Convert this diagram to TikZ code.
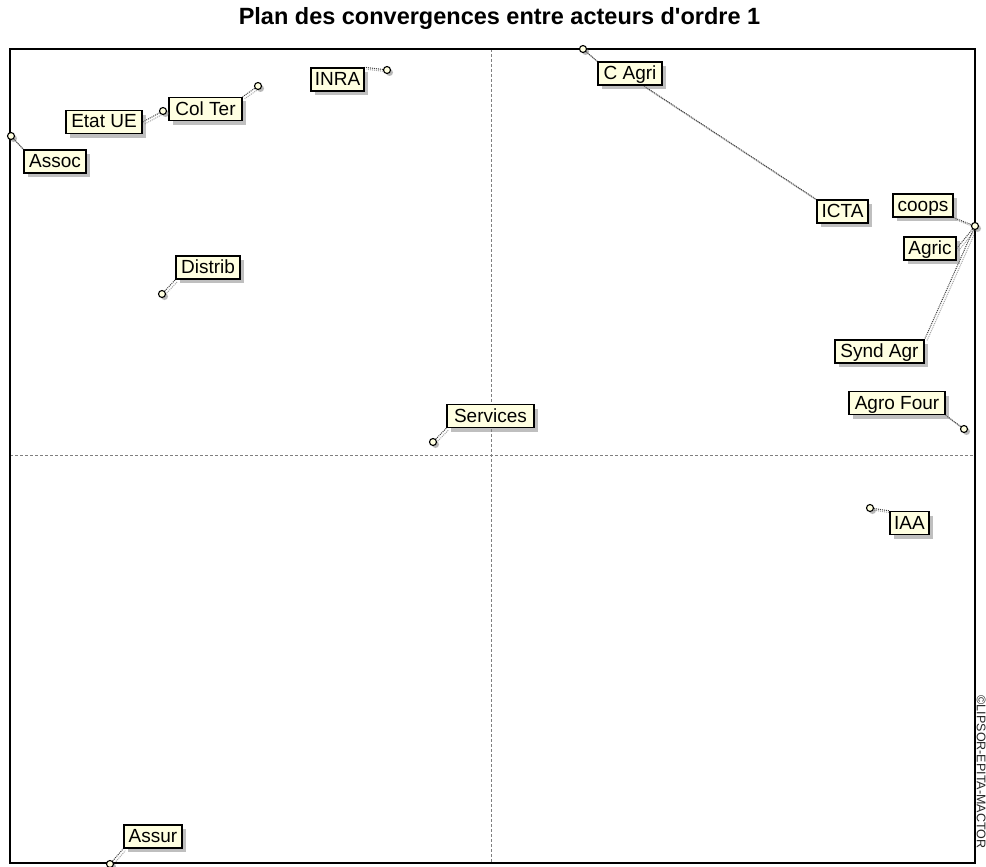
\documentclass[tikz,border=0pt]{standalone}
\usepackage{fontspec}
\setmainfont{Liberation Sans}
\usetikzlibrary{shadows}
\definecolor{cream}{HTML}{FFFFE1}
\pgfdeclarelayer{back}
\pgfsetlayers{back,main}
\begin{document}
\begin{tikzpicture}[x=1pt,y=-1pt,
  lbl/.style={draw=black,line width=1.4pt,fill=cream,inner xsep=0pt,inner ysep=0pt,
    minimum height=23pt,text height=14.5pt,text depth=2.5pt,
    font=\fontsize{19}{19}\selectfont,
    drop shadow={shadow xshift=4pt,shadow yshift=-4pt,fill=black!50,draw=none}},
  pt/.style={circle,draw=black,line width=1.1pt,fill=cream,inner sep=0pt,minimum size=7pt,
    drop shadow={shadow xshift=2.5pt,shadow yshift=-2.5pt,fill=black!55,draw=none}},
  lnk/.style={draw=black!75,line width=1pt,dash pattern=on 1pt off 1pt},
  lnksh/.style={draw=black!35,line width=1pt,dash pattern=on 1pt off 1pt},
  frame/.style={draw=black,line width=1.4pt},
  axis/.style={draw=black!50,line width=1pt,dash pattern=on 3pt off 2pt}]
\useasboundingbox (0,0) rectangle (986,867);
\clip (0,0) rectangle (986,867);
\begin{pgfonlayer}{back}
\fill[white] (0,0) rectangle (986,867);
\end{pgfonlayer}

\node[font=\bfseries\fontsize{23.5}{24}\selectfont] (title) at (499.5,18.5) {Plan des convergences entre acteurs d\textquotesingle ordre 1};

\begin{pgfonlayer}{back}
\draw[axis] (491,49) -- (491,863);
\draw[axis] (10,455) -- (975,455);
\end{pgfonlayer}
\draw[frame] (10,49) rectangle (975,863);

\node[rotate=-90,font=\fontsize{12.5}{13}\selectfont,text=black!85] (copy) at (981.2,772) {©LIPSOR-EPITA-MACTOR};

% labels
\node[lbl,minimum width=62pt] (Assoc) at (55,161.5) {Assoc};
\node[lbl,minimum width=76pt] (EtatUE) at (104,122) {Etat UE};
\node[lbl,minimum width=73pt] (ColTer) at (205.5,109) {Col Ter};
\node[lbl,minimum width=53pt] (INRA) at (337.5,79.5) {INRA};
\node[lbl,minimum width=64pt] (CAgri) at (630,73.5) {C Agri};
\node[lbl,minimum width=51pt] (ICTA) at (842.5,211.5) {ICTA};
\node[lbl,minimum width=60pt] (coops) at (923,205.5) {coops};
\node[lbl,minimum width=52pt] (Agric) at (930,248.5) {Agric};
\node[lbl,minimum width=89pt] (SyndAgr) at (879.5,351.5) {Synd Agr};
\node[lbl,minimum width=96pt] (AgroFour) at (897,403) {Agro Four};
\node[lbl,minimum width=39pt] (IAA) at (909.5,523) {IAA};
\node[lbl,minimum width=64pt] (Distrib) at (208,267.5) {Distrib};
\node[lbl,minimum width=87pt] (Services) at (490.5,416) {Services};
\node[lbl,minimum width=58pt] (Assur) at (153,836.5) {Assur};

% points
\node[pt] (pAssoc) at (11,136) {};
\node[pt] (pEtatUE) at (163,111) {};
\node[pt] (pColTer) at (258,86) {};
\node[pt] (pINRA) at (387,70) {};
\node[pt] (pCAgri) at (583,49) {};
\coordinate (pICTA) at (644,86);
\node[pt] (pAgri) at (975,226) {};
\node[pt] (pAgroFour) at (964,429) {};
\node[pt] (pIAA) at (870,508) {};
\node[pt] (pDistrib) at (162,294) {};
\node[pt] (pServices) at (433,442) {};
\node[pt] (pAssur) at (110,864) {};

\begin{pgfonlayer}{back}
\foreach \p/\l in {pAssoc/Assoc.north west, pEtatUE/EtatUE.east, pColTer/ColTer.north east,
  pINRA/INRA.north east, pCAgri/CAgri.north west, pICTA/ICTA.north west,
  pAgri/coops.south east, pAgri/Agric.east, pAgri/SyndAgr.north east,
  pAgroFour/AgroFour.south east, pIAA/IAA.north west, pDistrib/Distrib.south west,
  pServices/Services.south west, pAssur/Assur.south west}{
  \draw[lnksh] ([shift={(2pt,-2pt)}]\p.center) -- ([shift={(2pt,-2pt)}]\l);
  \draw[lnk] (\p.center) -- (\l);
}
\end{pgfonlayer}
\end{tikzpicture}
\end{document}
